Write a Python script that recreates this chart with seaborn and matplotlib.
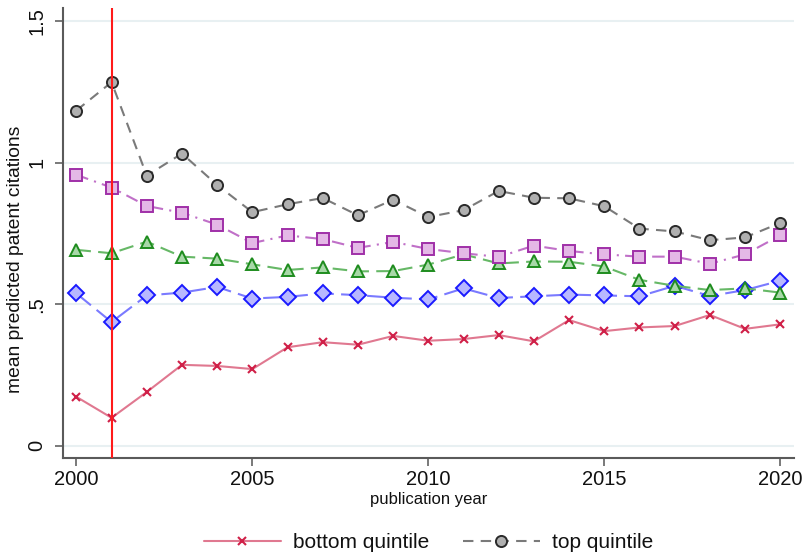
import numpy as np
import pandas as pd
import matplotlib
matplotlib.use("Agg")
import matplotlib.pyplot as plt
import seaborn as sns

# ---- data ----
years = list(range(2000, 2021))
bottom_quintile = [0.173, 0.099, 0.190, 0.286, 0.282, 0.271, 0.348, 0.366, 0.357, 0.388, 0.371,
                   0.377, 0.391, 0.369, 0.444, 0.405, 0.418, 0.423, 0.462, 0.413, 0.429]
second_quintile = [0.538, 0.437, 0.531, 0.541, 0.561, 0.520, 0.526, 0.538, 0.532, 0.523, 0.517,
                   0.556, 0.522, 0.528, 0.534, 0.531, 0.528, 0.565, 0.529, 0.550, 0.583]
third_quintile = [0.692, 0.680, 0.721, 0.668, 0.661, 0.641, 0.621, 0.630, 0.616, 0.617, 0.640,
                  0.676, 0.644, 0.651, 0.650, 0.633, 0.586, 0.565, 0.550, 0.556, 0.541]
fourth_quintile = [0.957, 0.912, 0.847, 0.823, 0.781, 0.716, 0.743, 0.730, 0.699, 0.720, 0.695,
                   0.680, 0.667, 0.707, 0.688, 0.676, 0.668, 0.668, 0.643, 0.676, 0.743]
top_quintile = [1.184, 1.284, 0.954, 1.032, 0.921, 0.825, 0.853, 0.875, 0.814, 0.869, 0.808,
                0.832, 0.900, 0.876, 0.874, 0.846, 0.767, 0.757, 0.726, 0.736, 0.787]
event_year = 2001
y_ticks = [0, 0.5, 1, 1.5]
y_tick_labels = ["0", ".5", "1", "1.5"]
x_ticks = [2000, 2005, 2010, 2015, 2020]
x_tick_labels = ["2000", "2005", "2010", "2015", "2020"]
legend_labels = ["bottom quintile", "top quintile"]

sns.set_style("white")
plt.rcParams["font.family"] = ["Liberation Sans", "DejaVu Sans"]

fig = plt.figure(figsize=(8.04, 5.57), dpi=100)
ax = fig.add_axes([63 / 804, 1 - 458 / 557, (794 - 63) / 804, (458 - 8) / 557])

df = pd.DataFrame({"year": years})

# horizontal grid lines
for yt in y_ticks:
    ax.axhline(yt, color="#e8f0f2", lw=1.5, zorder=0)

series = [
    (second_quintile, dict(color="#7a7aff", linestyle=(0, (9, 3.5)), marker="D", markersize=8,
                           markerfacecolor="#b8b8ff", markeredgecolor="#1a1aff", markeredgewidth=1.4)),
    (third_quintile, dict(color="#66b866", linestyle=(0, (7, 3.5)), marker="^", markersize=9,
                          markerfacecolor="#a8d8a8", markeredgecolor="#1e8c1e", markeredgewidth=1.4)),
    (fourth_quintile, dict(color="#c070c8", linestyle=(0, (6, 3, 1, 3)), marker="s", markersize=8,
                           markerfacecolor="#e4b8e6", markeredgecolor="#a030a8", markeredgewidth=1.4)),
    (top_quintile, dict(color="#7a7a7a", linestyle=(0, (5, 3.5)), marker="o", markersize=8,
                        markerfacecolor="#b0b0b0", markeredgecolor="#2a2a2a", markeredgewidth=1.4)),
    (bottom_quintile, dict(color="#e07890", linestyle="-", marker="x", markersize=5.5,
                           markeredgecolor="#d02048", markeredgewidth=1.5)),
]

handles = {}
for vals, kw in series:
    d = df.assign(v=vals)
    sns.lineplot(data=d, x="year", y="v", ax=ax, linewidth=1.5, legend=False, **kw)
    handles[id(vals)] = ax.lines[-1]

ax.axvline(event_year, color="#ff1a1a", lw=1.5, zorder=5)

ax.set_xlim(1999.62, 2020.39)
ax.set_ylim(-0.043, 1.546)
ax.set_xticks(x_ticks)
ax.set_xticklabels(x_tick_labels)
ax.set_yticks(y_ticks)
ax.set_yticklabels(y_tick_labels, rotation=90, va="center")

for side in ["top", "right"]:
    ax.spines[side].set_visible(False)
for side in ["left", "bottom"]:
    ax.spines[side].set_color("#5a5a5a")
    ax.spines[side].set_linewidth(1.5)

ax.tick_params(axis="both", direction="out", length=6, width=1.1, color="#555555",
               labelsize=14.5, labelcolor="#111111", bottom=True, left=True)
ax.tick_params(axis="y", pad=6)
ax.tick_params(axis="x", pad=2.5)

ax.set_xlabel("publication year", fontsize=12, color="#111111", labelpad=2)
ax.set_ylabel("mean predicted patent citations", fontsize=13.9, color="#111111")
ax.yaxis.set_label_coords(-0.053, 0.442)

leg_handles = [handles[id(bottom_quintile)], handles[id(top_quintile)]]
fig.legend(leg_handles, legend_labels, loc="center", bbox_to_anchor=(0.533, 1 - 543 / 557),
           ncol=2, frameon=False, fontsize=15, handlelength=3.7, handletextpad=0.6,
           columnspacing=1.6, labelcolor="#111111")

fig.savefig("out.png", dpi=100, facecolor="white")
